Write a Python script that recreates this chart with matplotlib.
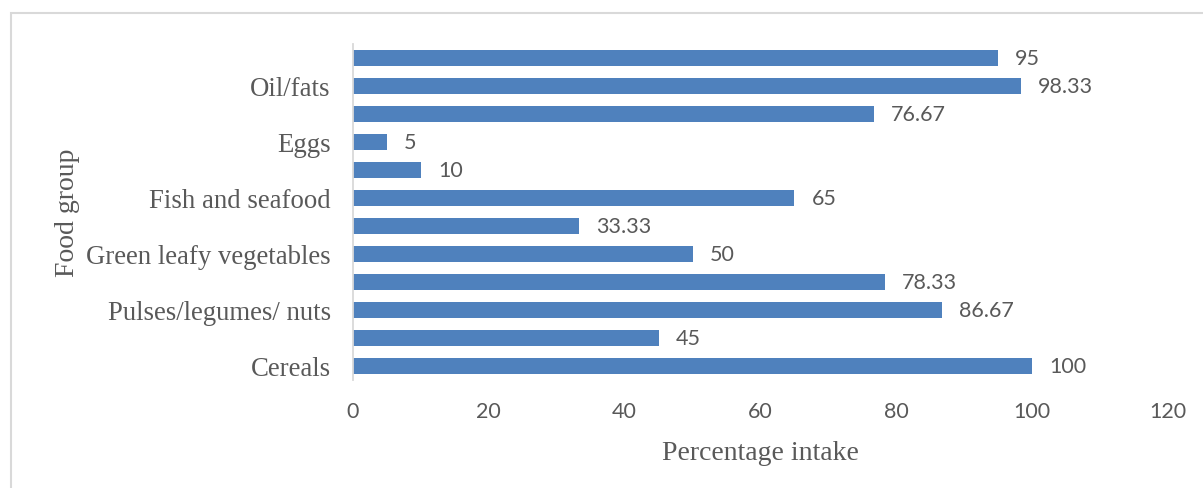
import matplotlib.pyplot as plt
from matplotlib.patches import Rectangle

# Food groups, bottom to top; every other row carries a label
labels = ['Cereals', '', 'Pulses/legumes/ nuts', '', 'Green leafy vegetables', '',
          'Fish and seafood', '', 'Eggs', '', 'Oil/fats', '']
intake = [100, 45, 86.67, 78.33, 50, 33.33, 65, 10, 5, 76.67, 98.33, 95]
value_text = ['100', '45', '86.67', '78.33', '50', '33.33', '65', '10', '5', '76.67', '98.33', '95']
xticks = [0, 20, 40, 60, 80, 100, 120]

bar_color = '#4F81BD'
text_color = '#595959'
serif = 'Liberation Serif'
sans = 'Lato'

fig = plt.figure(figsize=(12.03, 4.89), dpi=100)
ax = fig.add_axes([353 / 1203, 1 - 381 / 489, (1168 - 353) / 1203, (381 - 45) / 489])

pos = list(range(len(intake)))
bars = ax.barh(pos, intake, height=0.57, color=bar_color)

for bar, txt in zip(bars, value_text):
    ax.text(bar.get_width() + 2.5, bar.get_y() + bar.get_height() / 2, txt,
            va='center', ha='left', fontsize=15.5, family=sans, color=text_color)

ax.set_xlim(0, 120)
ax.set_ylim(-0.5, len(intake) - 0.5)
ax.set_xticks(xticks)
ax.set_xticklabels([str(t) for t in xticks], family=sans, fontsize=15.5, color=text_color)
ax.set_yticks(pos)
ax.set_yticklabels(labels, family=serif, fontsize=19.3, color=text_color)
ax.tick_params(axis='y', length=0, pad=16)
ax.tick_params(axis='x', length=0, pad=15)

for side in ['top', 'right', 'bottom']:
    ax.spines[side].set_visible(False)
ax.spines['left'].set_color('#d9d9d9')
ax.spines['left'].set_linewidth(1.3)

ax.set_xlabel('Percentage intake', family=serif, fontsize=20, color=text_color, labelpad=14)
ax.set_ylabel('Food group', family=serif, fontsize=20, color=text_color)
ax.yaxis.set_label_coords(-(353 - 80) / 815, 0.5)

# light frame around the chart area
fig.patches.append(Rectangle((11 / 1203, -0.1), 1.2, 1.1 - 14 / 489,
                             transform=fig.transFigure, fill=False,
                             edgecolor='#d9d9d9', linewidth=1.5))

fig.savefig('out.png', dpi=100)
